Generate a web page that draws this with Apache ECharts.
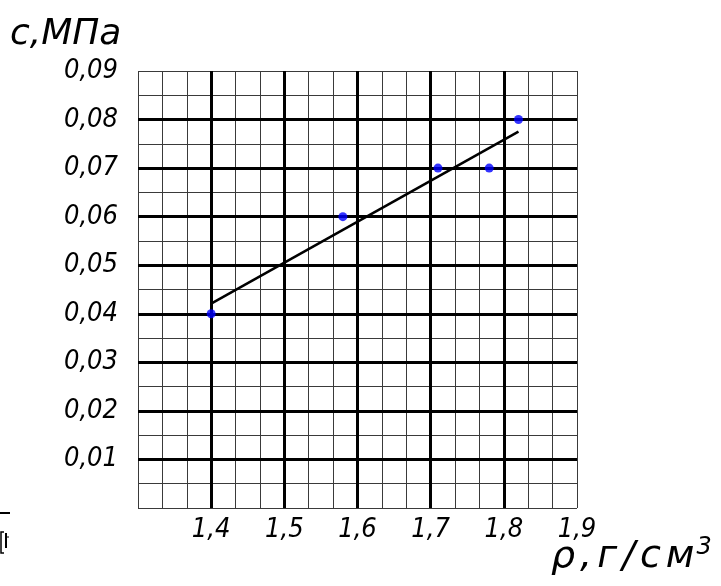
<!DOCTYPE html>
<html>
<head>
<meta charset="utf-8">
<script src="https://cdn.jsdelivr.net/npm/echarts@6/dist/echarts.min.js"></script>
<style>html,body{margin:0;padding:0;background:#fff}#c{width:721px;height:586px}</style>
</head>
<body>
<div id="c"></div>
<script>
const density = [1.4, 1.58, 1.71, 1.78, 1.82];
const cohesion = [0.04, 0.06, 0.07, 0.07, 0.08];
const fitX = [1.4, 1.82];
const fitY = [0.0421, 0.0775];
const majorX = [1.4, 1.5, 1.6, 1.7, 1.8];
const majorY = [0.01, 0.02, 0.03, 0.04, 0.05, 0.06, 0.07, 0.08];
const xTickLabels = ['', '1,4', '1,5', '1,6', '1,7', '1,8', '1,9'];
const yTickLabels = ['', '0,01', '0,02', '0,03', '0,04', '0,05', '0,06', '0,07', '0,08', '0,09'];

const FONT = '"DejaVu Sans Condensed", "DejaVu Sans", sans-serif';
const NFONT = '"DejaVu Sans", sans-serif';
const chart = echarts.init(document.getElementById('c'), null, {renderer: 'canvas'});
const thin = {color: '#3a3a3a', width: 1};
const ch = {fontSize: 38, fontStyle: 'oblique', fontFamily: NFONT, fill: '#000', verticalAlign: 'bottom', padding: [0, 5, 0, 0]};
chart.setOption({
  animation: false,
  backgroundColor: '#fff',
  grid: {left: 138, top: 71, width: 439, height: 437, containLabel: false},
  xAxis: {
    type: 'value', min: 1.3, max: 1.9, interval: 0.1,
    axisLine: {show: false}, axisTick: {show: false},
    minorTick: {show: false, splitNumber: 3},
    splitLine: {show: true, lineStyle: thin},
    minorSplitLine: {show: true, lineStyle: thin},
    axisLabel: {
      margin: 8, color: '#000', fontSize: 27, fontStyle: 'oblique', fontFamily: FONT,
      formatter: (v, i) => xTickLabels[i] || ''
    }
  },
  yAxis: {
    type: 'value', min: 0, max: 0.09, interval: 0.01,
    axisLine: {show: false}, axisTick: {show: false},
    minorTick: {show: false, splitNumber: 2},
    splitLine: {show: true, lineStyle: thin},
    minorSplitLine: {show: true, lineStyle: thin},
    axisLabel: {
      margin: 20, color: '#000', fontSize: 27, fontStyle: 'oblique', fontFamily: FONT,
      formatter: (v, i) => yTickLabels[i] || ''
    }
  },
  series: [
    {
      type: 'line', z: 3,
      data: fitX.map((x, i) => [x, fitY[i]]),
      symbol: 'none',
      lineStyle: {color: '#000', width: 2.5},
      markLine: {
        silent: true, symbol: 'none', animation: false,
        label: {show: false},
        lineStyle: {color: '#000', width: 3, type: 'solid'},
        data: majorX.map(v => ({xAxis: v})).concat(majorY.map(v => ({yAxis: v})))
      }
    },
    {
      type: 'scatter', z: 5,
      data: density.map((x, i) => [x, cohesion[i]]),
      symbolSize: 9,
      itemStyle: {color: '#0000ff'}
    }
  ],
  graphic: [
    {type: 'text', left: 10, top: 17, style: {text: 'с,МПа', fontSize: 36, fontStyle: 'oblique', fontFamily: NFONT, fill: '#000'}},
    {type: 'text', left: 551, top: 536, style: {
      text: '{a|ρ}{a|,}{a|г}{a|/}{a|с}{b|м}{s|3}',
      rich: {
        a: ch,
        b: Object.assign({}, ch, {padding: [0, 2, 0, 0]}),
        s: {fontSize: 24, fontStyle: 'oblique', fontFamily: NFONT, fill: '#000', verticalAlign: 'top', padding: [0, 0, 16, 0]}
      }
    }},
    {type: 'line', shape: {x1: 0, y1: 513, x2: 10, y2: 513}, style: {stroke: '#000', lineWidth: 2}},
    {type: 'polyline', shape: {points: [[4, 532], [1, 532], [1, 553], [4, 553]]}, style: {stroke: '#000', lineWidth: 1.5, fill: null}},
    {type: 'line', shape: {x1: 6, y1: 533, x2: 6, y2: 548}, style: {stroke: '#000', lineWidth: 2}},
    {type: 'line', shape: {x1: 6, y1: 537, x2: 9, y2: 537}, style: {stroke: '#000', lineWidth: 1}}
  ]
});
</script>
</body>
</html>
